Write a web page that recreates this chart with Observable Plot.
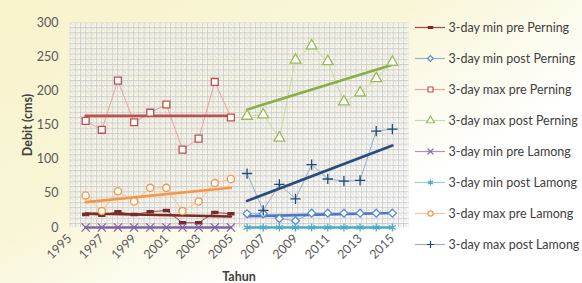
<!DOCTYPE html>
<html><head><meta charset="utf-8">
<script src="https://cdn.jsdelivr.net/npm/d3@7"></script>
<script src="https://cdn.jsdelivr.net/npm/@observablehq/plot@0.6"></script>
<style>
body{margin:0;background:#fff;}
#wrap{display:flex;width:582px;height:283px;overflow:hidden;
  background:linear-gradient(150deg,#f7f3cc 0%,#f9f6d8 40%,#ffffff 70%);}
#wrap svg{background:transparent !important;}
[aria-label="y-axis label"] text,[aria-label="x-axis label"] text{font-weight:bold;fill:#404040;}
</style></head><body><div id="wrap"></div>
<script>
// ---- data ----
const yearsPre  = [1996,1997,1998,1999,2000,2001,2002,2003,2004,2005];
const yearsPost = [2006,2007,2008,2009,2010,2011,2012,2013,2014,2015];
const minPrePerning  = [19, 18, 23, 19, 23, 25, 7, 7, 22, 20];
const minPostPerning = [20, 20, 13, 10, 21, 21, 21, 21, 21, 21];
const maxPrePerning  = [156, 143, 215, 154, 168, 180, 114, 130, 213, 161];
const maxPostPerning = [163, 165, 131, 245, 266, 243, 184, 197, 218, 242];
const minPreLamong   = [0, 0, 0, 0, 0, 0, 0, 0, 0, 0];
const minPostLamong  = [0, 0, 0, 0, 0, 0, 0, 0, 0, 0];
const maxPreLamong   = [47, 24, 53, 38, 58, 58, 24, 38, 65, 71];
const maxPostLamong  = [79, 25, 63, 42, 92, 71, 68, 69, 141, 144];
const seriesNames = ["3-day min pre Perning","3-day min post Perning","3-day max pre Perning","3-day max post Perning",
  "3-day min pre Lamong","3-day min post Lamong","3-day max pre Lamong","3-day max post Lamong"];
const xTicks = [1995,1997,1999,2001,2003,2005,2007,2009,2011,2013,2015];
const yTicks = [0,50,100,150,200,250,300];

// ---- styles ----
const dash = {draw(ctx, size){ const w = Math.sqrt(size)*1.05, h = w*0.38; ctx.rect(-w/2,-h/2,w,h); }};
const rhombus = {draw(ctx, size){ const h = Math.sqrt(size)*0.62; ctx.moveTo(0,-h); ctx.lineTo(h,0); ctx.lineTo(0,h); ctx.lineTo(-h,0); ctx.closePath(); }};
const styles = [
  {years: yearsPre,  vals: minPrePerning,  color:"#7a2a2a", line:"#9e4a4a", trend:"#7b2b25", symbol:dash, fill:"#7a2a2a", r:3.2},
  {years: yearsPost, vals: minPostPerning, color:"#5b8bd0", line:"#8fb0dc", trend:"#4a78c4", symbol:rhombus, fill:"white", r:3.6},
  {years: yearsPre,  vals: maxPrePerning,  color:"#c0504d", line:"#e6a3a1", trend:"#c0504d", symbol:"square", fill:"white", r:3.9},
  {years: yearsPost, vals: maxPostPerning, color:"#9bbb59", line:"#c6dc9f", trend:"#8aae44", symbol:"triangle", fill:"white", r:4.0},
  {years: yearsPre,  vals: minPreLamong,   color:"#8064a2", line:"#a893c4", trend:"#8064a2", symbol:"times", fill:"none", r:3.8},
  {years: yearsPost, vals: minPostLamong,  color:"#4bacc6", line:"#8fcfe0", trend:"#4bacc6", symbol:"asterisk", fill:"none", r:3.8},
  {years: yearsPre,  vals: maxPreLamong,   color:"#f79646", line:"#f9c296", trend:"#f79646", symbol:"circle", fill:"white", r:3.6},
  {years: yearsPost, vals: maxPostLamong,  color:"#1f497d", line:"#9aafcb", trend:"#2a4c7c", symbol:"plus", fill:"none", r:3.4}
];

const tables = styles.map((s,i)=>s.years.map((y,j)=>({series:seriesNames[i], year:y, value:s.vals[j]})));

const lines = [], trends = [], dots = [];
styles.forEach((s,i)=>{
  const d = tables[i];
  lines.push(Plot.line(d,{x:"year",y:"value",stroke:s.line,strokeWidth:1}));
  trends.push(Plot.linearRegressionY(d,{x:"year",y:"value",stroke:s.trend,strokeWidth:2.6,ci:0}));
  dots.push(Plot.dot(d,{x:"year",y:"value",symbol:s.symbol,r:s.r,stroke:s.color,fill:s.fill,strokeWidth:1.3}));
});

const chart = Plot.plot({
  width:410, height:283,
  marginLeft:69, marginRight:2, marginTop:22, marginBottom:56,
  style:{fontFamily:"Lato, sans-serif", fontSize:"12.5px", color:"#595959", background:"transparent"},
  x:{domain:[1995,2016], ticks:xTicks, tickFormat:"d", tickRotate:-45, tickSize:0, tickPadding:9,
     label:"Tahun", labelAnchor:"center", labelArrow:"none", labelOffset:53},
  y:{domain:[0,300], ticks:yTicks, tickSize:0, tickPadding:11,
     label:"Debit (cms)", labelAnchor:"center", labelArrow:"none", labelOffset:46},
  marks:[
    Plot.frame({fill:"url(#mesh)", stroke:null}),
    ...lines, ...trends, ...dots
  ]
});
// mesh pattern used by frame fill
const defs = d3.select(chart).insert("defs", ":first-child");
const pat = defs.append("pattern").attr("id","mesh").attr("patternUnits","userSpaceOnUse")
  .attr("width",5.3).attr("height",5.3);
pat.append("rect").attr("width",5.3).attr("height",5.3).attr("fill","rgba(255,255,255,0.45)");
pat.append("path").attr("d","M0,0.5H5.3M0.5,0V5.3").attr("stroke","#cdcdcd").attr("stroke-width",1);
pat.append("path").attr("d","M2,2L4,4").attr("stroke","#dcdcdc").attr("stroke-width",1);

const legendMarks = [
  Plot.ruleY(seriesNames.map((n,i)=>({name:n, line:styles[i].line})), {y:"name", x1:5, x2:35, stroke:"line", strokeWidth:1.2}),
  Plot.text(seriesNames, {y:d=>d, x:38, text:d=>d, textAnchor:"start", fill:"#404040", fontSize:12.5})
];
styles.forEach((s,i)=>{
  legendMarks.push(Plot.dot([seriesNames[i]], {y:d=>d, x:20, symbol:s.symbol, r:s.r*0.72, stroke:s.color, fill:s.fill, strokeWidth:1.2}));
});
const legend = Plot.plot({
  width:172, height:283, marginLeft:0, marginRight:0, marginTop:27, marginBottom:39,
  style:{fontFamily:"Lato, sans-serif", background:"transparent"},
  x:{domain:[0,172], axis:null},
  y:{type:"point", domain:seriesNames, axis:null, padding:0},
  marks: legendMarks
});
document.getElementById("wrap").append(chart, legend);
</script></body></html>
